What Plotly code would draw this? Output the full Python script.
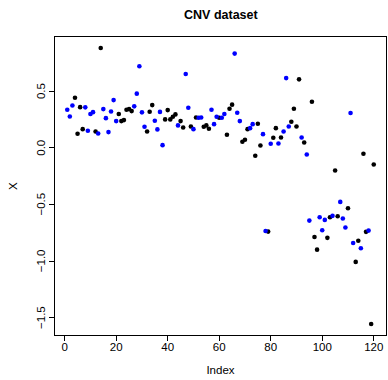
import plotly.graph_objects as go

values = [
    0.335, 0.276, 0.373, 0.441, 0.124, 0.358, 0.164, 0.356, 0.150, 0.297,
    0.314, 0.144, 0.126, 0.879, 0.341, 0.261, 0.138, 0.320, 0.420, 0.235,
    0.297, 0.235, 0.244, 0.335, 0.341, 0.323, 0.365, 0.477, 0.718, 0.312,
    0.185, 0.144, 0.318, 0.376, 0.238, 0.162, 0.316, 0.023, 0.250, 0.332,
    0.250, 0.274, 0.294, 0.197, 0.235, 0.179, 0.650, 0.353, 0.188, 0.164,
    0.267, 0.265, 0.267, 0.185, 0.197, 0.168, 0.335, 0.208, 0.274, 0.265,
    0.265, 0.297, 0.115, 0.344, 0.380, 0.830, 0.309, 0.235, 0.053, 0.071,
    0.164, 0.173, 0.208, -0.071, 0.212, 0.020, 0.120, -0.733, -0.739, 0.035,
    0.088, 0.173, 0.038, 0.091, 0.144, 0.614, 0.188, 0.229, 0.344, 0.188,
    0.603, 0.091, 0.047, -0.060, -0.642, 0.405, -0.786, -0.898, -0.612, -0.727,
    -0.636, -0.794, -0.612, -0.600, -0.200, -0.604, -0.477, -0.624, -0.703, -0.533,
    0.306, -0.839, -1.006, -0.820, -0.886, -0.053, -0.741, -0.730, -1.553, -0.147,
]
# 1 = blue group, 0 = black group
group = [
    1, 1, 1, 0, 0, 0, 0, 1, 1, 1,
    1, 0, 1, 0, 1, 1, 1, 1, 1, 1,
    0, 0, 0, 0, 0, 0, 1, 1, 1, 1,
    1, 0, 0, 0, 1, 1, 1, 1, 0, 0,
    0, 0, 0, 1, 0, 0, 1, 1, 0, 1,
    0, 1, 1, 0, 0, 0, 1, 1, 1, 0,
    1, 1, 0, 0, 0, 1, 1, 1, 0, 0,
    0, 1, 1, 0, 0, 0, 1, 1, 0, 1,
    0, 0, 1, 0, 1, 1, 1, 0, 0, 0,
    0, 1, 0, 1, 1, 0, 0, 0, 1, 1,
    1, 0, 0, 1, 0, 0, 1, 1, 1, 0,
    1, 1, 0, 0, 1, 0, 0, 1, 0, 0,
]
index = list(range(1, len(values) + 1))
x_ticks = [0, 20, 40, 60, 80, 100, 120]
y_ticks = [-1.5, -1.0, -0.5, 0.0, 0.5]

n = len(values)
xpad = 0.04 * (n - 1)
ymin, ymax = min(values), max(values)
ypad = 0.04 * (ymax - ymin)

fig = go.Figure()
for g, col in [(0, "black"), (1, "#0000ff")]:
    fig.add_trace(go.Scatter(
        x=[i for i, gg in zip(index, group) if gg == g],
        y=[v for v, gg in zip(values, group) if gg == g],
        mode="markers",
        marker=dict(color=col, size=4.6, line=dict(width=0)),
        showlegend=False,
        hoverinfo="skip",
    ))

font = "Liberation Sans, Arial, sans-serif"
L, R, T, B = 55, 2, 37, 45
plot_w = 388 - L - R

annotations = []
for t in y_ticks:
    label = ("\u2212" if t < 0 else "") + f"{abs(t):.1f}"
    annotations.append(dict(
        text=label, xref="paper", yref="y", x=(41 - L) / plot_w, y=t,
        xanchor="center", yanchor="middle", textangle=-90, showarrow=False,
        font=dict(size=11.5, family=font, color="black"),
    ))
annotations.append(dict(
    text="X", xref="paper", yref="paper", x=(13 - L) / plot_w, y=0.5,
    xanchor="center", yanchor="middle", textangle=-90, showarrow=False,
    font=dict(size=11.5, family=font, color="black"),
))

fig.update_layout(
    width=388, height=380,
    margin=dict(l=L, r=R, t=T, b=B),
    plot_bgcolor="white", paper_bgcolor="white",
    font=dict(family=font, size=11, color="black"),
    title=dict(text="<b>CNV dataset</b>", x=0.5692, xanchor="center",
               y=1 - 15 / 380, yanchor="middle", font=dict(size=12.5, family=font)),
    annotations=annotations,
)
fig.update_xaxes(
    range=[1 - xpad, n + xpad],
    tickmode="array", tickvals=x_ticks, ticktext=[str(t) for t in x_ticks],
    showgrid=False, zeroline=False,
    showline=True, linecolor="black", linewidth=1, mirror=True,
    ticks="outside", ticklen=5, tickcolor="black", tickwidth=1,
    tickfont=dict(size=11.5), ticklabelstandoff=-4,
    title=dict(text="Index", font=dict(size=11.5), standoff=14),
)
fig.update_yaxes(
    range=[ymin - ypad, ymax + ypad],
    tickmode="array", tickvals=y_ticks, showticklabels=False,
    showgrid=False, zeroline=False,
    showline=True, linecolor="black", linewidth=1, mirror=True,
    ticks="outside", ticklen=5, tickcolor="black", tickwidth=1,
)

fig.write_html("out.html")
